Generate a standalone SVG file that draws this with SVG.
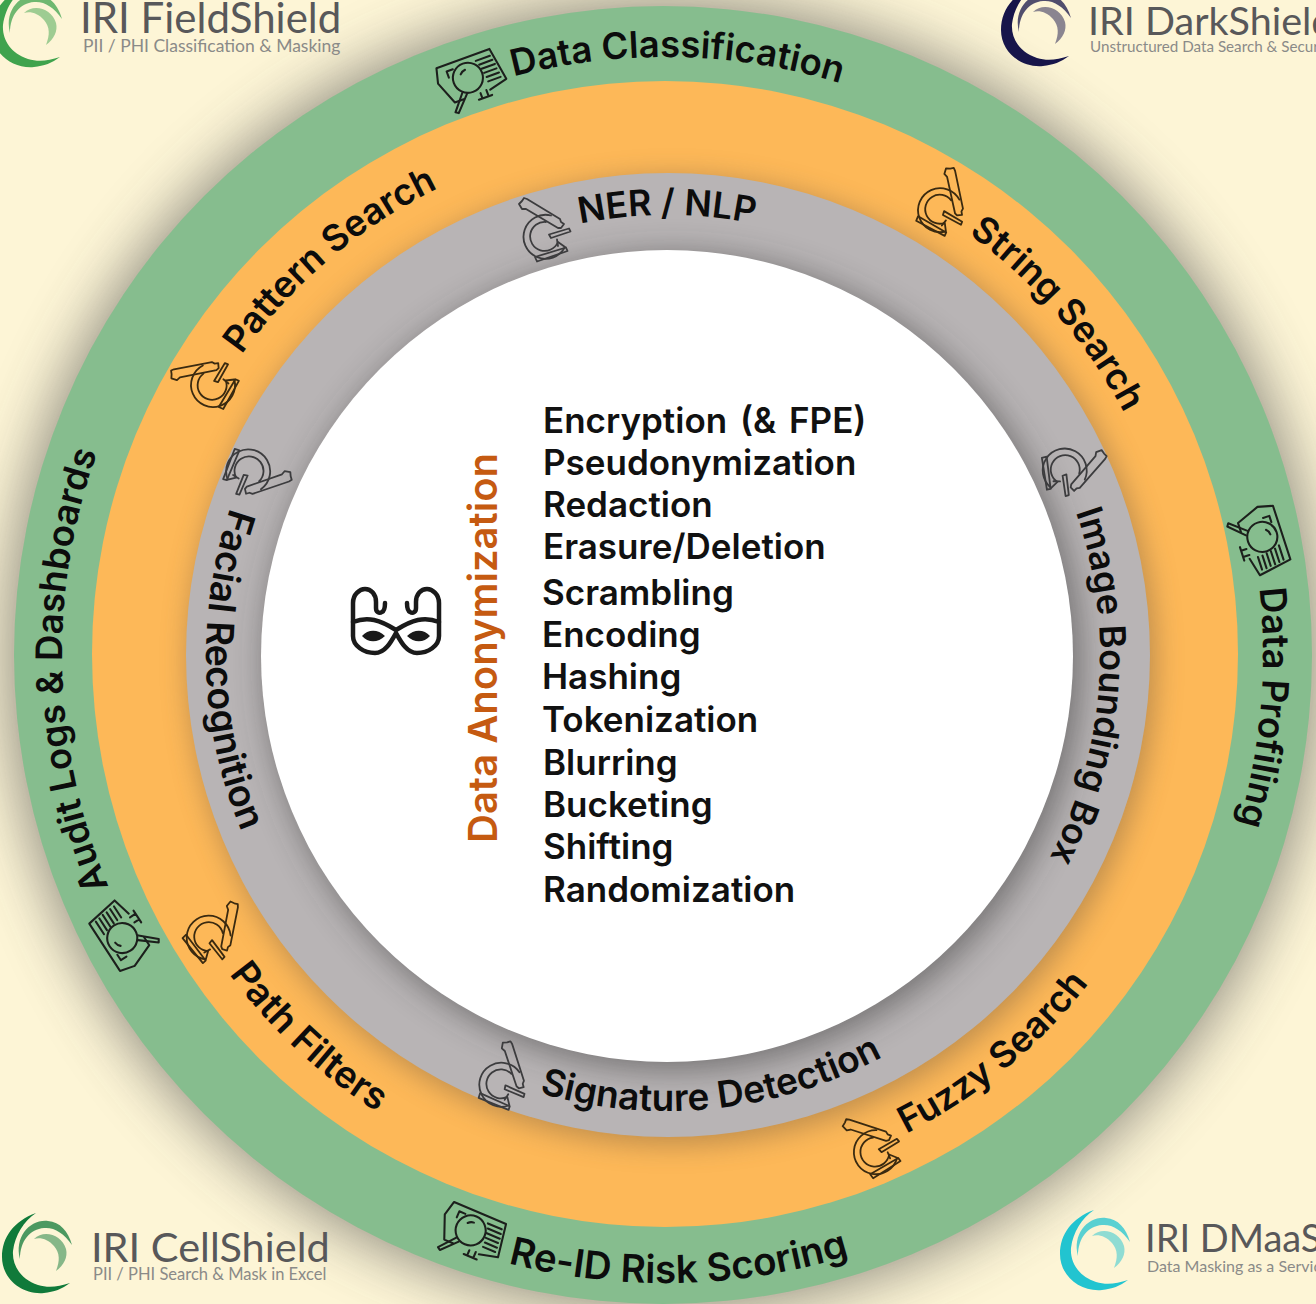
<svg xmlns="http://www.w3.org/2000/svg" width="1316" height="1304" viewBox="0 0 1316 1304">
<style>
.ring{font-family:Inter,"Liberation Sans",sans-serif;font-weight:600;fill:#0c0c0c;text-anchor:middle}
.outer{font-size:36.500px}.mid{font-size:36.500px}.inner{font-size:36px}
.list{font-family:Inter,"Liberation Sans",sans-serif;font-weight:600;font-size:35px;fill:#111}
.title{font-family:Lato,"Open Sans",sans-serif;fill:#58585a}
.sub{font-family:Lato,"Open Sans",sans-serif;fill:#8a8a88}
.ic{fill:none;stroke-width:1.800;stroke-linejoin:round;stroke-linecap:round}
.mag{fill:none;stroke:#1c1f1c;stroke-width:2.200;stroke-linejoin:round;stroke-linecap:round}
</style>
<defs>
<filter id="b30" x="-20%" y="-20%" width="140%" height="140%"><feGaussianBlur stdDeviation="30"/></filter>
<filter id="b14" x="-20%" y="-20%" width="140%" height="140%"><feGaussianBlur stdDeviation="14"/></filter>
<filter id="b18" x="-20%" y="-20%" width="140%" height="140%"><feGaussianBlur stdDeviation="16"/></filter>
<path id="cw598" d="M665 1253A598 598 0 1 1 665 57A598 598 0 1 1 665 1253"/>
<path id="cw519" d="M665 1174A519 519 0 1 1 665 136A519 519 0 1 1 665 1174"/>
<path id="cw440" d="M667 1095A440 440 0 1 1 667 215A440 440 0 1 1 667 1095"/>
<path id="cw433" d="M667 1088A433 433 0 1 1 667 222A433 433 0 1 1 667 1088"/>
<path id="ccw628" d="M665 27A628 628 0 1 0 665 1283A628 628 0 1 0 665 27"/>
<path id="ccw540" d="M665 115A540 540 0 1 0 665 1195A540 540 0 1 0 665 115"/>
<path id="ccw536" d="M665 119A536 536 0 1 0 665 1191A536 536 0 1 0 665 119"/>
<path id="ccw456" d="M667 199A456 456 0 1 0 667 1111A456 456 0 1 0 667 199"/>
<g id="scope">
<path d="M-26 -30L-24 -33L-21 -32L12 -12L13 -9L16 -7L13 -3L10 -3L-22 -22L-26 -22L-29 -27Z"/>
<path d="M3 -15.500A22 22 0 1 0 17 16L10 11A14.500 14.500 0 1 1 -2 -9"/>
<path d="M1 3.500L21 -2.500L22.500 0.500L3 7Z"/>
<path d="M9 8.500L10 15M-13 26L18 16.500L19.500 20L-11 30.500Z"/>
</g>
<g id="magni">
<path d="M-34 -6L-30 -22L30 -22L36 14L16 19M-14 19L-24 19L-34 -6"/>
<path d="M-21 -15H-14M-21 -15V-8"/>
<path d="M12 -15H28M14 -10H29M15 -5H30M16 0H30M17 5H31M17 10H31"/>
<circle cx="-2" cy="-1" r="16"/>
<path d="M-8 -7A9 9 0 0 1 -2 -10"/>
<path d="M-13 12L-27 29L-24 31L-9 15"/>
<path d="M5 19V25M12 18V25M1 25H16"/>
</g>
<g id="swirl">
<path d="M34 0C12 8 0 24 0 44C0 66 20 82 42 80C52 79 60 76 68 70C56 74 46 75 36 72C18 66 10 52 11 38C13 22 22 8 34 0Z"/>
<path opacity=".75" d="M18 46C12 24 28 6 46 8C58 9 66 18 70 32C62 20 52 14 42 15C28 16 18 28 18 46Z"/>
<path opacity=".5" d="M32 26C42 16 60 22 64 36C66 44 62 52 54 58C58 48 58 40 52 33C46 26 38 24 32 26Z"/>
</g>
</defs>
<rect width="1316" height="1304" fill="#fdf5d6"/>
<g id="rings">
<circle cx="663" cy="655" r="655" fill="#4a4a4a" opacity=".62" filter="url(#b30)"/>
<circle cx="663" cy="655" r="649" fill="#86bd8e"/>
<circle cx="665" cy="654" r="573" fill="#fdb858"/>
<circle cx="672" cy="661" r="484" fill="#5a4a3a" opacity=".38" filter="url(#b14)"/>
<circle cx="668" cy="655" r="482" fill="#b8b4b5"/>
<circle cx="673" cy="662" r="408" fill="#333" opacity=".5" filter="url(#b18)"/>
<circle cx="667" cy="656" r="406" fill="#fff"/>
</g>
<g id="logo-fieldshield"><use href="#swirl" transform="translate(-8 -13)" fill="#3fa34d"/>
<text class="title" x="80" y="33" font-size="42">IRI FieldShield</text>
<text class="sub" x="83" y="52" font-size="17.500">PII / PHI Classification &amp; Masking</text></g>
<g id="logo-darkshield"><use href="#swirl" transform="translate(1001 -14)" fill="#17154a"/>
<text class="title" x="1088" y="35" font-size="39.500">IRI DarkShield</text>
<text class="sub" x="1090" y="52" font-size="15.200">Unstructured Data Search &amp; Security</text></g>
<g id="logo-cellshield"><use href="#swirl" transform="translate(2 1213)" fill="#107a3a"/>
<text class="title" x="91" y="1262" font-size="41.500">IRI CellShield</text>
<text class="sub" x="93" y="1280" font-size="16.500">PII / PHI Search &amp; Mask in Excel</text></g>
<g id="logo-dmaas"><use href="#swirl" transform="translate(1060 1210)" fill="#22c4d0"/>
<text class="title" x="1145" y="1252" font-size="38">IRI DMaaS</text>
<text class="sub" x="1147" y="1272" font-size="16">Data Masking as a Service</text></g>
<g id="data-classification"><use href="#magni" class="mag" transform="translate(470 78) rotate(-20) scale(.94)"/>
<text class="ring outer" transform="rotate(1.200 665 655)"><textPath href="#cw598" startOffset="50%">Data Classification</textPath></text></g>
<g id="data-profiling"><use href="#magni" class="mag" transform="translate(1262 539) rotate(72) scale(.94)"/>
<text class="ring outer" transform="rotate(95 665 655)"><textPath href="#cw598" startOffset="50%">Data Profiling</textPath></text></g>
<g id="audit-logs"><use href="#magni" class="mag" transform="translate(122 936) rotate(-123) scale(.94)"/>
<text class="ring outer" transform="translate(-5 0) rotate(268.500 665 655)"><textPath href="#cw598" startOffset="50%">Audit Logs &amp; Dashboards</textPath></text></g>
<g id="re-id"><use href="#magni" class="mag" transform="translate(472 1232) rotate(23) scale(.94)"/>
<text class="ring outer" style="font-size:38.500px" transform="rotate(-1.300 665 655)"><textPath href="#ccw628" startOffset="50%">Re-ID Risk Scoring</textPath></text></g>
<g id="pattern-search"><use href="#scope" class="ic" stroke="#3a2a10" transform="translate(211 379) rotate(-42)"/>
<text class="ring mid" transform="rotate(-40.300 665 655)"><textPath href="#cw519" startOffset="50%">Pattern Search</textPath></text></g>
<g id="string-search"><use href="#scope" class="ic" stroke="#3a2a10" transform="translate(946 208) rotate(47)"/>
<text class="ring mid" transform="rotate(49 665 655)"><textPath href="#cw519" startOffset="50%">String Search</textPath></text></g>
<g id="path-filters"><use href="#scope" class="ic" stroke="#3a2a10" transform="translate(215 938) rotate(70)"/>
<text class="ring mid" style="font-size:37.500px" transform="rotate(43 665 655)"><textPath href="#ccw540" startOffset="50%">Path Filters</textPath></text></g>
<g id="fuzzy-search"><use href="#scope" class="ic" stroke="#3a2a10" transform="translate(877 1146) rotate(-13)"/>
<text class="ring mid" transform="rotate(-39.500 665 655)"><textPath href="#ccw536" startOffset="50%">Fuzzy Search</textPath></text></g>
<g id="ner-nlp"><use href="#scope" class="ic" stroke="#3c3c3e" transform="translate(548 231)"/>
<text class="ring inner" transform="rotate(0 667 655)"><textPath href="#cw440" startOffset="50%">NER / NLP</textPath></text></g>
<g id="image-bounding"><use href="#scope" class="ic" stroke="#3c3c3e" transform="translate(1070 474) rotate(100)"/>
<text class="ring inner" transform="rotate(94.300 667 655)"><textPath href="#cw433" startOffset="50%">Image Bounding Box</textPath></text></g>
<g id="signature"><use href="#scope" class="ic" stroke="#3c3c3e" transform="translate(507 1082) rotate(41)"/>
<text class="ring inner" style="font-size:37px" transform="rotate(-6 667 655)"><textPath href="#ccw456" startOffset="50%">Signature Detection</textPath></text></g>
<g id="facial"><use href="#scope" class="ic" stroke="#3c3c3e" transform="translate(251 477) rotate(130)"/>
<text class="ring inner" style="font-size:37.500px" transform="translate(-5 0) rotate(88 667 655)"><textPath href="#ccw456" startOffset="50%">Facial Recognition</textPath></text></g>
<g id="mask-icon" fill="none" stroke="#1a1a1a" stroke-width="4.500" stroke-linecap="round" stroke-linejoin="round">
<path d="M353 622V603C353 594 360 589 365 589C371 589 376 594 376 602V608C376 612 379 614 382 612C384 611 385 608 385 603"/>
<path d="M439 622V603C439 594 432 589 427 589C421 589 416 594 416 602V608C416 612 413 614 410 612C408 611 407 608 407 603"/>
<path d="M353 622C368 616 380 620 396 630C412 620 424 616 439 622V636C439 646 428 653 417 653C407 653 401 642 396 633C391 642 385 653 375 653C364 653 353 646 353 636Z"/>
<path d="M362 636C368 629 378 629 385 636C378 643 368 643 362 636ZM407 636C414 629 424 629 430 636C424 643 414 643 407 636Z" fill="#1a1a1a" stroke="none"/>
</g>
<g id="anonymization">
<text transform="translate(497 843) rotate(-90)" font-family="Inter,'Liberation Sans',sans-serif" font-weight="600" font-size="40" fill="#c55a11">Data Anonymization</text>
<g>
<text class="list" x="543" y="433" word-spacing="4">Encryption (&amp; FPE)</text>
<text class="list" x="543" y="475">Pseudonymization</text>
<text class="list" x="543" y="517">Redaction</text>
<text class="list" x="543" y="559">Erasure/Deletion</text>
<text class="list" x="542" y="605">Scrambling</text>
<text class="list" x="542" y="647">Encoding</text>
<text class="list" x="542" y="689">Hashing</text>
<text class="list" x="542" y="732">Tokenization</text>
<text class="list" x="543" y="775">Blurring</text>
<text class="list" x="543" y="817">Bucketing</text>
<text class="list" x="543" y="859">Shifting</text>
<text class="list" x="543" y="902">Randomization</text>
</g></g>
</svg>
